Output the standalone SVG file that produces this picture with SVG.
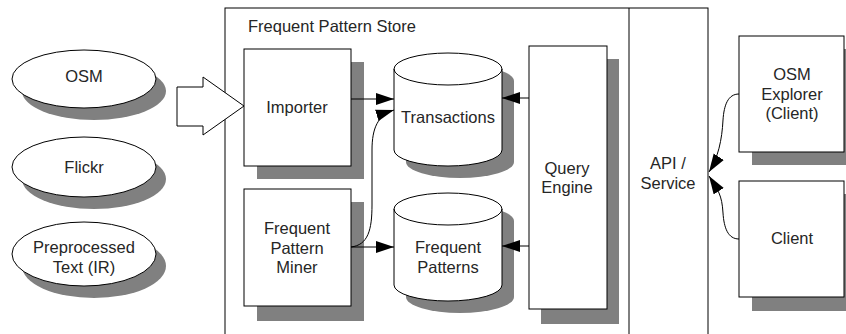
<svg xmlns="http://www.w3.org/2000/svg" width="846" height="334" viewBox="0 0 846 334">
<style>
.t{font-family:"Liberation Sans",Arial,sans-serif;font-size:16.5px;fill:#262626;text-anchor:middle}
.box{fill:#fff;stroke:#000;stroke-width:1}
.sh{fill:#808080;stroke:none}
.ln{fill:none;stroke:#000;stroke-width:1}
</style>
<defs>
<marker id="ah" markerUnits="userSpaceOnUse" markerWidth="20" markerHeight="13" refX="18" refY="6" orient="auto">
<path d="M0,0 L18,6 L0,12 z" fill="#000"/>
</marker>
</defs>
<rect width="846" height="334" fill="#fff"/>

<g id="sources">
<g id="osm">
<ellipse class="sh" cx="94" cy="91" rx="72" ry="29"/>
<ellipse class="box" cx="84" cy="79" rx="72" ry="29"/>
<text class="t" x="84" y="82">OSM</text>
</g>
<g id="flickr">
<ellipse class="sh" cx="94" cy="179" rx="72" ry="30"/>
<ellipse class="box" cx="84" cy="167" rx="72" ry="30"/>
<text class="t" x="84" y="173">Flickr</text>
</g>
<g id="preprocessed">
<ellipse class="sh" cx="94" cy="266" rx="72" ry="32"/>
<ellipse class="box" cx="84" cy="254" rx="72" ry="32"/>
<text class="t" x="84" y="253">Preprocessed</text>
<text class="t" x="84" y="273">Text (IR)</text>
</g>
</g>

<g id="store">
<rect class="box" x="225" y="8" width="483" height="340"/>
<line class="ln" x1="629" y1="8" x2="629" y2="334"/>
<text class="t" x="248" y="32" style="text-anchor:start">Frequent Pattern Store</text>
</g>

<g id="import-arrow">
<path class="box" d="M177,87 L203,87 L203,77 L244,106 L203,135 L203,126 L177,126 Z"/>
</g>

<g id="api">
<text class="t" x="668" y="169">API /</text>
<text class="t" x="668" y="189">Service</text>
</g>

<g id="importer">
<rect class="sh" x="257" y="62" width="107" height="117"/>
<rect class="box" x="244" y="49" width="107" height="117"/>
<text class="t" x="297" y="113">Importer</text>
</g>

<g id="miner">
<rect class="sh" x="257" y="202" width="107" height="119"/>
<rect class="box" x="244" y="189" width="107" height="117"/>
<text class="t" x="297" y="234">Frequent</text>
<text class="t" x="297" y="254">Pattern</text>
<text class="t" x="297" y="273">Miner</text>
</g>

<g id="transactions">
<path class="sh" transform="translate(12,12)" d="M394,69 L394,150 A54,16 0 0 0 502,150 L502,69 A54,16 0 0 0 394,69 Z"/>
<path class="box" d="M394,69 L394,150 A54,16 0 0 0 502,150 L502,69 A54,16 0 0 0 394,69 Z"/>
<path class="ln" d="M394,69 A54,16 0 0 0 502,69"/>
<text class="t" x="448" y="123">Transactions</text>
</g>

<g id="frequent-patterns">
<path class="sh" transform="translate(12,12)" d="M394,209 L394,285 A54,16 0 0 0 502,285 L502,209 A54,16 0 0 0 394,209 Z"/>
<path class="box" d="M394,209 L394,285 A54,16 0 0 0 502,285 L502,209 A54,16 0 0 0 394,209 Z"/>
<path class="ln" d="M394,209 A54,16 0 0 0 502,209"/>
<text class="t" x="448" y="253">Frequent</text>
<text class="t" x="448" y="273">Patterns</text>
</g>

<g id="query-engine">
<rect class="sh" x="541" y="59" width="78" height="265"/>
<rect class="box" x="529" y="46" width="78" height="263"/>
<text class="t" x="567" y="174">Query</text>
<text class="t" x="567" y="193">Engine</text>
</g>

<g id="osm-explorer">
<rect class="sh" x="752" y="49" width="105" height="116"/>
<rect class="box" x="739" y="36" width="105" height="116"/>
<text class="t" x="792" y="80">OSM</text>
<text class="t" x="792" y="100">Explorer</text>
<text class="t" x="792" y="119">(Client)</text>
</g>

<g id="client">
<rect class="sh" x="752" y="194" width="105" height="117"/>
<rect class="box" x="739" y="181" width="105" height="116"/>
<text class="t" x="792" y="244">Client</text>
</g>

<g id="connectors">
<path class="ln" d="M351,99 L394,99" marker-end="url(#ah)"/>
<path class="ln" d="M529,98 L502,98" marker-end="url(#ah)"/>
<path class="ln" d="M351,247 L394,247" marker-end="url(#ah)"/>
<path class="ln" d="M529,246 L502,246" marker-end="url(#ah)"/>
<path class="ln" d="M351,247 C368,245 372,230 372,205 L372,150 C372,128 378,115 394,110" marker-end="url(#ah)"/>
<path class="ln" d="M739,94 C728,94 724,105 723,120 C722,140 718,158 709,172" marker-end="url(#ah)"/>
<path class="ln" d="M739,239 C728,239 724,228 723,213 C722,195 718,190 709,176" marker-end="url(#ah)"/>
</g>
</svg>
